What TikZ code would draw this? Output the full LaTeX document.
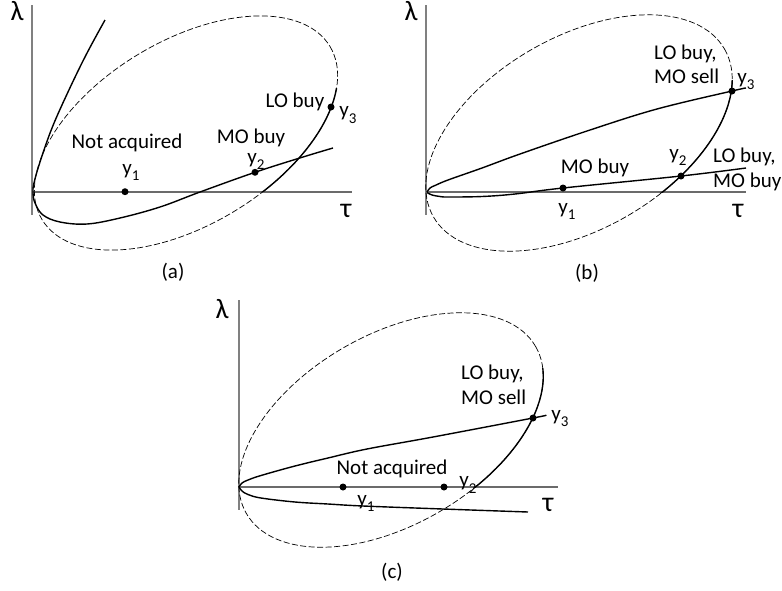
\documentclass[tikz,border=0pt]{standalone}
\usepackage{fontspec}
\setmainfont{Carlito}
\newcommand{\ysb}[1]{y\raisebox{-6.5pt}{\fontsize{15}{15}\selectfont #1}}
\begin{document}
\begin{tikzpicture}[x=1pt,y=-1pt,
  axv/.style={draw=black!50, line width=1.2pt},
  axh/.style={draw=black!58, line width=2pt},
  crv/.style={line width=1.4pt, line join=round},
  ell/.style={line width=0.7pt, dash pattern=on 6pt off 2.5pt},
  dot/.style={circle, fill=black, inner sep=0pt, minimum size=7pt},
  lbl/.style={inner sep=0pt, font=\fontsize{21}{24}\selectfont, anchor=base},
  lblw/.style={inner sep=0pt, font=\fontsize{21}{24}\selectfont, anchor=base west},
  grk/.style={inner sep=0pt, font=\fontsize{28}{30}\selectfont, anchor=base},
  capt/.style={inner sep=0pt, font=\fontsize{21}{24}\selectfont}]
\useasboundingbox (0,0) rectangle (782,590);

% ---------------- panel (a)
\coordinate (aT) at (32,5); \coordinate (aB) at (32,215);
\coordinate (aO) at (32,191.7); \coordinate (aR) at (352,191.7);
\draw[axv] (aT) -- (aB);
\draw[axh] (aO) -- (aR);
\coordinate (aC) at (186,133);
\draw[ell, rotate around={31:(aC)}] (aC) ellipse [x radius=168, y radius=92];
\begin{scope}
\clip (225,88) rectangle (360,191.7);
\draw[crv, rotate around={31:(aC)}] (aC) ellipse [x radius=168, y radius=92];
\end{scope}
\coordinate (a1) at (125,191.7);
\coordinate (a2) at (255,172.3);
\coordinate (a3) at (331,107);
\draw[crv] plot[smooth, tension=0.6] coordinates {(105,20) (86,55) (68,92) (52,128) (40,162) (34,183) (33,193) (35,203) (43,215) (60,222) (87,224) (120,218) (160,207) (200,192) (a2) (303,157) (333,148)};
\node[dot] (a1d) at (a1) {};
\node[dot] (a2d) at (a2) {};
\node[dot] (a3d) at (a3) {};
\node[grk] (aLam) at (17,20) {λ};
\node[grk] (aTau) at (346,217) {τ};
\node[lbl] (aNA) at (127,148) {Not acquired};
\node[lbl] (aY1) at (131,174) {\ysb{1}};
\node[lbl] (aMO) at (251,143) {MO buy};
\node[lbl] (aY2) at (256,163) {\ysb{2}};
\node[lbl] (aLO) at (295,107) {LO buy};
\node[lbl] (aY3) at (348,116.5) {\ysb{3}};
\node[capt] (aCap) at (173,272) {(a)};

% ---------------- panel (b)
\coordinate (bT) at (426,5); \coordinate (bB) at (426,215);
\coordinate (bO) at (426,192); \coordinate (bR) at (746,192);
\draw[axv] (bT) -- (bB);
\draw[axh] (bO) -- (bR);
\coordinate (bC) at (579,133);
\draw[ell, rotate around={30:(bC)}] (bC) ellipse [x radius=168, y radius=96];
\begin{scope}
\clip (600,80) rectangle (760,192);
\draw[crv, rotate around={30:(bC)}] (bC) ellipse [x radius=168, y radius=96];
\end{scope}
\coordinate (b1) at (563,188);
\coordinate (b2) at (681,176);
\coordinate (b3) at (732,91);
\draw[crv] plot[smooth, tension=0.6] coordinates {(427,192) (430,188) (435,185.5) (448,180) (482,168) (520,154) (590,130) (657,109) (b3) (746,88)};
\draw[crv] plot[smooth, tension=0.6] coordinates {(427,192.5) (432,195) (440,196.5) (448,197) (482,196.5) (515,194) (b1) (b2) (746,168)};
\node[dot] (b1d) at (b1) {};
\node[dot] (b2d) at (b2) {};
\node[dot] (b3d) at (b3) {};
\node[grk] (bLam) at (411,20) {λ};
\node[grk] (bTau) at (738,217) {τ};
\node[lblw] (bLO1) at (654,59) {LO buy,};
\node[lblw] (bMS) at (654,83) {MO sell};
\node[lbl] (bY3) at (746,83) {\ysb{3}};
\node[lbl] (bMO) at (595,173.5) {MO buy};
\node[lbl] (bY1) at (567,213) {\ysb{1}};
\node[lbl] (bY2) at (678,159) {\ysb{2}};
\node[lblw] (bLO2) at (713,162) {LO buy,};
\node[lblw] (bMB) at (713,187) {MO buy};
\node[capt] (bCap) at (587,273) {(b)};

% ---------------- panel (c)
\coordinate (cT) at (239,300); \coordinate (cB) at (239,510);
\coordinate (cO) at (239,487); \coordinate (cR) at (558,487);
\draw[axv] (cT) -- (cB);
\draw[axh] (cO) -- (cR);
\coordinate (cC) at (391,430);
\draw[ell, rotate around={30:(cC)}] (cC) ellipse [x radius=167, y radius=95];
\begin{scope}
\clip (420,368) rectangle (560,487);
\draw[crv, rotate around={30:(cC)}] (cC) ellipse [x radius=167, y radius=95];
\end{scope}
\coordinate (c1) at (343,487);
\coordinate (c2) at (444,487);
\coordinate (c3) at (533,418);
\draw[crv] plot[smooth, tension=0.6] coordinates {(239,487) (242,483) (248,480) (261,475.5) (295,466) (328,458) (367,449) (433,437) (c3) (545,415.5)};
\draw[crv] plot[smooth, tension=0.6] coordinates {(239,487) (242,491) (248,494.5) (261,498) (295,502) (328,504) (363,506) (443,509) (528,512)};
\node[dot] (c1d) at (c1) {};
\node[dot] (c2d) at (c2) {};
\node[dot] (c3d) at (c3) {};
\node[grk] (cLam) at (222,318) {λ};
\node[grk] (cTau) at (548,511.7) {τ};
\node[lblw] (cLO) at (461,379) {LO buy,};
\node[lblw] (cMS) at (461,404) {MO sell};
\node[lbl] (cY3) at (560,420) {\ysb{3}};
\node[lbl] (cNA) at (392,474) {Not acquired};
\node[lbl] (cY1) at (366,505) {\ysb{1}};
\node[lbl] (cY2) at (468,486.5) {\ysb{2}};
\node[capt] (cCap) at (392,572) {(c)};
\end{tikzpicture}
\end{document}
